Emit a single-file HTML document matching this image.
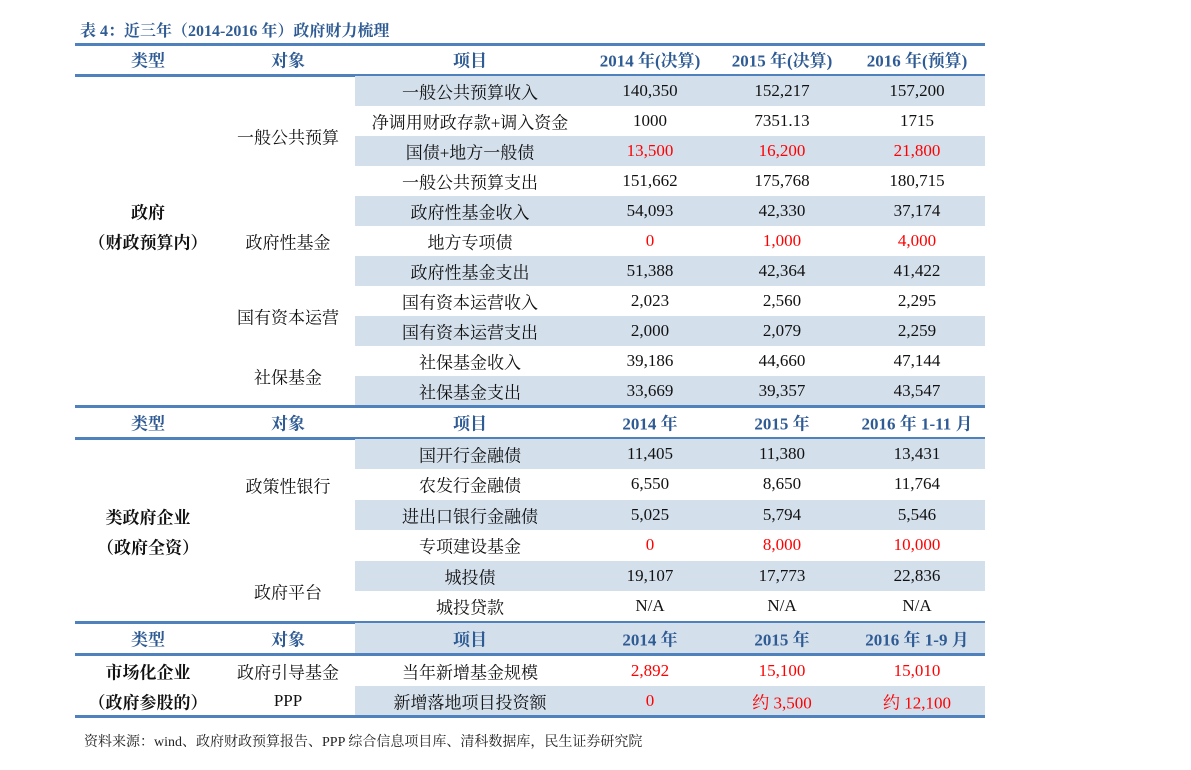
<!DOCTYPE html>
<html><head><meta charset="utf-8"><style>
body{margin:0;width:1191px;height:770px;background:#fff;position:relative;overflow:hidden;font-family:"Liberation Serif","Noto Serif CJK SC",serif;}
.t{position:absolute;white-space:nowrap;transform:translate(-50%,-50%);font-size:17px;color:#111;}
.h{color:#2f5b94;font-weight:bold;}
.r{color:#f00;}
.band{position:absolute;background:#d3dfeb;height:30px;left:355px;width:630px;}
.line{position:absolute;left:75px;width:910px;height:3px;background:#4f81bd;}
</style></head><body>
<div style="position:absolute;left:80px;top:18px;font-size:16px;font-weight:bold;color:#2f5b94;font-family:'Liberation Serif','Noto Serif CJK SC',serif;">表 4：近三年（2014-2016 年）政府财力梳理</div>
<div id="tbl"></div>
<div style="position:absolute;left:84px;top:731px;font-size:14px;color:#222;">资料来源：wind、政府财政预算报告、PPP 综合信息项目库、清科数据库，民生证券研究院</div>
<script>
const cols=[148,288,470,650,782,917];
const secHeaders=[["2014 年(决算)","2015 年(决算)","2016 年(预算)"],["2014 年","2015 年","2016 年 1-11 月"],["2014 年","2015 年","2016 年 1-9 月"]];
const items1=["一般公共预算收入","净调用财政存款+调入资金","国债+地方一般债","一般公共预算支出","政府性基金收入","地方专项债","政府性基金支出","国有资本运营收入","国有资本运营支出","社保基金收入","社保基金支出"];
const vals1=[["140,350","152,217","157,200"],["1000","7351.13","1715"],["13,500","16,200","21,800"],["151,662","175,768","180,715"],["54,093","42,330","37,174"],["0","1,000","4,000"],["51,388","42,364","41,422"],["2,023","2,560","2,295"],["2,000","2,079","2,259"],["39,186","44,660","47,144"],["33,669","39,357","43,547"]];
const red1=[2,5];
const items2=["国开行金融债","农发行金融债","进出口银行金融债","专项建设基金","城投债","城投贷款"];
const vals2=[["11,405","11,380","13,431"],["6,550","8,650","11,764"],["5,025","5,794","5,546"],["0","8,000","10,000"],["19,107","17,773","22,836"],["N/A","N/A","N/A"]];
const red2=[3];
const items3=["当年新增基金规模","新增落地项目投资额"];
const vals3=[["2,892","15,100","15,010"],["0","约 3,500","约 12,100"]];
const tbl=document.getElementById('tbl');
function txt(x,y,s,cls,name){const d=document.createElement('div');d.className='t '+(cls||'');d.style.left=x+'px';d.style.top=y+'px';d.textContent=s;


tbl.appendChild(d);}
function line(y,name){const d=document.createElement('div');d.className='line';d.style.top=(y-1)+'px';


tbl.appendChild(d);}
function band(y,h,name){const d=document.createElement('div');d.className='band';d.style.top=y+'px';d.style.height=h+'px';


tbl.appendChild(d);}
function header(y,hs,i){txt(cols[0],y,"类型","h","header-type");txt(cols[1],y,"对象","h","header-object");txt(cols[2],y,"项目","h","header-item");hs.forEach((s,k)=>txt(cols[3+k],y,s,"h","header-year"));}
// section 1
line(44,"top-rule");header(59,secHeaders[0]);line(75,"header-rule");
items1.forEach((s,i)=>{const y=76+i*30;if(i%2==0)band(y,30,"row-shade");txt(cols[2],y+15,s,"","item-label");vals1[i].forEach((v,k)=>txt(cols[3+k],y+15,v,red1.includes(i)?"r":"","value-cell"));});
txt(cols[0],211,"政府","h","type-government");
tbl.lastChild.style.color="#111";
txt(cols[0],241,"（财政预算内）","h","type-government-sub");tbl.lastChild.style.color="#111";
txt(cols[1],136,"一般公共预算","","object-general-budget");
txt(cols[1],241,"政府性基金","","object-gov-fund");
txt(cols[1],316,"国有资本运营","","object-state-capital");
txt(cols[1],376,"社保基金","","object-social-security");
// section 2
line(406,"section2-rule");header(422,secHeaders[1]);line(438,"section2-header-rule");
items2.forEach((s,i)=>{const y=439+i*30.4;if(i%2==0)band(y,30.4,"row-shade");txt(cols[2],y+15,s,"","item-label");vals2[i].forEach((v,k)=>txt(cols[3+k],y+15,v,red2.includes(i)?"r":"","value-cell"));});
txt(cols[0],516,"类政府企业","h","type-quasi-gov");tbl.lastChild.style.color="#111";
txt(cols[0],546,"（政府全资）","h","type-quasi-gov-sub");tbl.lastChild.style.color="#111";
txt(cols[1],485,"政策性银行","","object-policy-bank");
txt(cols[1],591,"政府平台","","object-gov-platform");
// section 3
line(622,"section3-rule");band(623,31,"header-shade");header(638,secHeaders[2]);line(654,"section3-header-rule");
items3.forEach((s,i)=>{const y=656+i*30;if(i==1)band(y,30,"row-shade");txt(cols[2],y+15,s,"","item-label");vals3[i].forEach((v,k)=>txt(cols[3+k],y+15,v,"r","value-cell"));});
txt(cols[0],671,"市场化企业","h","type-market");tbl.lastChild.style.color="#111";
txt(cols[0],701,"（政府参股的）","h","type-market-sub");tbl.lastChild.style.color="#111";
txt(cols[1],671,"政府引导基金","","object-guide-fund");
txt(cols[1],701,"PPP","","object-ppp");
line(716,"bottom-rule");
</script>
</body></html>
